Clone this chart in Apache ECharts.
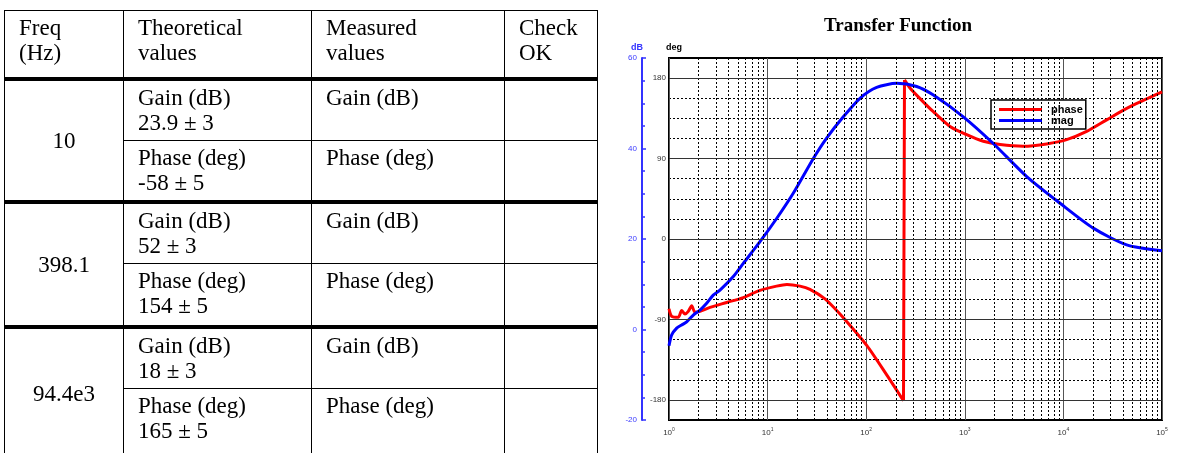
<!DOCTYPE html>
<html>
<head>
<meta charset="utf-8">
<script src="https://cdn.jsdelivr.net/npm/echarts@6/dist/echarts.min.js"></script>
<style>
  html, body { margin: 0; padding: 0; background: #fff; overflow: hidden; }
  #chart { position: absolute; left: 0; top: 0; width: 1182px; height: 453px; }
  #tbl {
    position: absolute; left: 4px; top: 10px; z-index: 2;
    border-collapse: collapse; table-layout: fixed;
    font-family: "Liberation Serif", serif; font-size: 23px; line-height: 25px; color: #000;
  }
  #tbl td { border: 1.5px solid #000; vertical-align: top; padding: 4px 0 0 14px; }
  #tbl td.freq { text-align: center; vertical-align: middle; padding: 0; }
  #tbl tr.grp td { border-top: 4px solid #000; }
</style>
</head>
<body>
<div id="chart"></div>
<table id="tbl">
  <colgroup><col style="width:119px"><col style="width:188px"><col style="width:193px"><col style="width:93px"></colgroup>
  <tbody id="tbody"></tbody>
</table>
<script>
// table values
const headers = ['Freq<br>(Hz)', 'Theoretical<br>values', 'Measured<br>values', 'Check<br>OK'];
const tableFreqs = ['10', '398.1', '94.4e3'];
const gainTheory = ['23.9 ± 3', '52 ± 3', '18 ± 3'];
const phaseTheory = ['-58 ± 5', '154 ± 5', '165 ± 5'];

// magnitude curve (dB)
const magFreq = [1, 1.065, 1.197, 1.345, 1.512, 1.763, 2.062, 2.41, 2.81, 3.29, 4.49, 5.67, 8.37, 12.5, 18.2, 29.1, 39.7, 58.6, 86.5, 127.6, 203.7, 325, 480, 966, 1945, 4246, 9247, 20090, 43850, 100000];
const magDb = [-3.6, -1.2, 0.3, 1.0, 1.7, 3.2, 4.3, 5.8, 7.6, 8.7, 11.7, 14.6, 19.4, 24.7, 30.1, 37.8, 42.3, 47, 51.1, 53.5, 54.4, 53.7, 51.8, 47, 41.1, 33.8, 27.9, 22.4, 18.7, 17.4];

// phase curve (deg), before and after the wrap
const phaseLowFreq = [1, 1.065, 1.243, 1.345, 1.453, 1.569, 1.699, 1.835, 2.062, 2.604, 3.85, 5.67, 8.37, 12.33, 15.7, 21.3, 26.9, 38.2, 50.2, 58.6, 101.2, 161.4, 239];
const phaseLowDeg = [-78, -86.5, -87.6, -80, -84, -81, -74.7, -82, -81, -76.5, -71, -65.5, -57.5, -52.7, -50.8, -52.7, -56.3, -67, -80, -88, -119, -152, -181];
const phaseHighFreq = [244.5, 278, 351.6, 479.6, 707.9, 1045, 1541, 2275, 3917, 6771, 10790, 17220, 27480, 43850, 100000];
const phaseHighDeg = [178, 169, 157.1, 142.4, 125.9, 116.7, 109.3, 105.7, 103.8, 106.4, 111.2, 120.4, 133.3, 146.1, 164.5];

// grid lines
const minorGridFreqs = [2, 3, 4, 5, 6, 7, 8, 9, 20, 30, 40, 50, 60, 70, 80, 90, 200, 300, 400, 500, 600, 700, 800, 900,
  2000, 3000, 4000, 5000, 6000, 7000, 8000, 9000, 20000, 30000, 40000, 50000, 60000, 70000, 80000, 90000];
const majorDegLines = [-180, -90, 0, 90, 180];

// build table
let html = '<tr>' + headers.map(h => '<td>' + h + '</td>').join('') + '</tr>';
const subHeights = [[62, 61], [62, 63], [62, 70]];
tableFreqs.forEach((f, i) => {
  html += '<tr class="grp" style="height:' + subHeights[i][0] + 'px"><td class="freq" rowspan="2">' + f + '</td>' +
    '<td>Gain (dB)<br>' + gainTheory[i] + '</td><td>Gain (dB)</td><td></td></tr>';
  html += '<tr style="height:' + subHeights[i][1] + 'px"><td>Phase (deg)<br>' + phaseTheory[i] + '</td><td>Phase (deg)</td><td></td></tr>';
});
document.getElementById('tbody').innerHTML = html;
document.querySelector('#tbody tr').style.height = '68px';

const magData = magFreq.map((f, i) => [f, magDb[i]]);
const lowPts = phaseLowFreq.map((f, i) => [f, phaseLowDeg[i]]);
const highPts = phaseHighFreq.map((f, i) => [f, phaseHighDeg[i]]);
// break the line around the wrap so the jump stays straight
const phaseData = lowPts.concat([[240, null]], [lowPts[lowPts.length - 1], highPts[0]], [[242, null]], highPts);

const chart = echarts.init(document.getElementById('chart'));
chart.setOption({
  animation: false,
  backgroundColor: '#fff',
  textStyle: { fontFamily: 'Liberation Sans, Arial, sans-serif' },
  title: {
    text: 'Transfer Function',
    left: 893, top: 12, textAlign: 'center',
    textStyle: { fontFamily: 'Liberation Serif, serif', fontWeight: 'bold', fontSize: 19, color: '#000' }
  },
  legend: {
    data: ['phase', 'mag'],
    orient: 'vertical',
    left: 991, top: 100,
    backgroundColor: '#fff',
    borderColor: '#000', borderWidth: 1.5,
    padding: [4, 3, 3, 8],
    icon: 'rect',
    itemGap: 0, itemWidth: 43, itemHeight: 3,
    textStyle: { fontSize: 11, lineHeight: 11, fontWeight: 'bold', color: '#000', padding: [0, 0, 0, 4] }
  },
  grid: {
    left: 669, top: 58, right: 20, bottom: 33,
    show: true, borderColor: '#000', borderWidth: 2
  },
  xAxis: {
    type: 'log', logBase: 10, min: 1, max: 100000, splitNumber: 5,
    axisLine: { show: false },
    axisTick: { show: false },
    splitLine: { show: true, lineStyle: { color: '#555', width: 1 } },
    axisLabel: {
      margin: 7,
      formatter: v => '{b|10}{e|' + Math.round(Math.log10(v)) + '}',
      rich: {
        b: { fontSize: 8, color: '#333', verticalAlign: 'bottom' },
        e: { fontSize: 5, color: '#333', verticalAlign: 'bottom', padding: [0, 0, 5, 0] }
      }
    }
  },
  yAxis: [
    {
      type: 'value', min: -20, max: 60, interval: 20,
      position: 'left', offset: 27,
      name: 'dB', nameLocation: 'end', nameGap: 6,
      nameTextStyle: { color: '#3333ff', fontWeight: 'bold', fontSize: 9, align: 'center', padding: [0, 10, 0, 0] },
      axisLine: { show: true, lineStyle: { color: '#3333ff', width: 2 } },
      axisTick: { show: true, inside: true, length: 4, lineStyle: { color: '#3333ff', width: 1.5 } },
      minorTick: { show: true, splitNumber: 4, length: 3, lineStyle: { color: '#3333ff', width: 1.5 } },
      axisLabel: { color: '#3b3bff', fontSize: 8, margin: 5 },
      splitLine: { show: false }
    },
    {
      type: 'value', min: -202.5, max: 202.5, interval: 22.5,
      position: 'left', offset: 0,
      name: 'deg', nameLocation: 'end', nameGap: 6,
      nameTextStyle: { color: '#000', fontWeight: 'bold', fontSize: 9, align: 'center', padding: [0, 0, 0, 10] },
      axisLine: { show: false },
      axisTick: { show: false },
      axisLabel: {
        color: '#333', fontSize: 8, margin: 3,
        formatter: v => (Math.abs(v % 90) < 1e-6 ? String(v) : '')
      },
      splitLine: { show: true, lineStyle: { color: '#000', width: 1, type: [2, 2] } }
    }
  ],
  series: [
    {
      name: 'grid', type: 'line', yAxisIndex: 1, data: [], z: 1, silent: true,
      markLine: {
        silent: true, symbol: 'none', label: { show: false }, animation: false,
        data: minorGridFreqs.map(v => ({ xAxis: v, lineStyle: { color: '#000', width: 1, type: [2, 2] } }))
          .concat(majorDegLines.map(v => ({ yAxis: v, lineStyle: { color: '#333', width: 1.2, type: 'solid' } })))
      }
    },
    {
      name: 'phase', type: 'line', yAxisIndex: 1, data: phaseData, z: 3,
      symbol: 'none', smooth: 0.25, connectNulls: false,
      itemStyle: { color: '#ff0000' },
      lineStyle: { color: '#ff0000', width: 3 }
    },
    {
      name: 'mag', type: 'line', yAxisIndex: 0, data: magData, z: 4,
      symbol: 'none', smooth: 0.25,
      itemStyle: { color: '#0000ff' },
      lineStyle: { color: '#0000ff', width: 3 }
    }
  ]
});
</script>
</body>
</html>
